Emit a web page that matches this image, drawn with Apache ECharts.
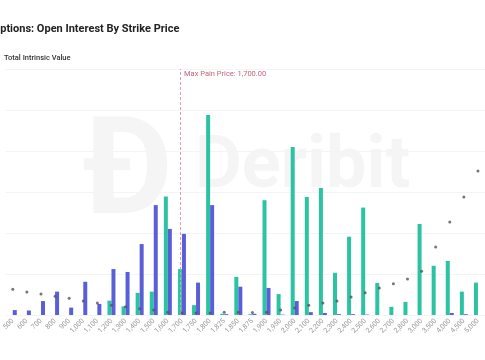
<!DOCTYPE html>
<html>
<head>
<meta charset="utf-8">
<script src="https://cdn.jsdelivr.net/npm/echarts@6/dist/echarts.min.js"></script>
<style>html,body{margin:0;padding:0;background:#fff;}#c{width:485px;height:360px;}</style>
</head>
<body>
<div id="c"></div>
<script>
const categories = ['500','600','700','800','900','1,000','1,100','1,200','1,300','1,400','1,500','1,600','1,700','1,750','1,800','1,825','1,850','1,875','1,900','1,950','2,000','2,100','2,200','2,300','2,400','2,500','2,600','2,700','2,800','3,000','3,500','4,000','4,500','5,000'];
const calls = [0,0,0,0,0,0,0,350,210,540,570,2890,1120,240,4880,30,930,20,2800,510,4100,2880,3100,1030,1910,2620,780,200,320,2220,1200,1320,570,790];
const puts = [120,110,340,570,180,810,270,1120,1050,1730,2680,2100,1980,790,2680,20,690,30,660,10,340,70,50,20,20,10,0,0,0,0,0,50,20,0];
const intrinsic = [63,56,51,46,41,34,29,24,20,15,12,7,5,5,5,7,7,6,7,12,17,24,29,34,44,54,66,76,88,107,166,227,288,351];
const maxPainStrike = '1,700';
const titleText = 'ETH Options: Open Interest By Strike Price';
const maxPainLabel = 'Max Pain Price: 1,700.00';

const chart = echarts.init(document.getElementById('c'), null, {renderer: 'canvas'});
const FONT = 'Roboto, "Noto Sans", sans-serif';
chart.setOption({
  animation: false,
  backgroundColor: '#ffffff',
  title: {
    text: titleText,
    left: -36, top: 19,
    textStyle: {fontFamily: FONT, fontSize: 11, fontWeight: 'bold', color: '#222'}
  },
  legend: {
    data: ['Total Intrinsic Value'],
    left: -12, top: 49,
    itemWidth: 6, itemHeight: 6, itemGap: 5,
    icon: 'circle',
    textStyle: {fontFamily: FONT, fontSize: 7.5, fontWeight: 500, color: '#333'}
  },
  graphic: [
    {type: 'text', z: 0, left: 83, top: 112, style: {text: 'Đ', font: 'bold 135px Roboto, sans-serif', fill: '#f5f5f5'}},
    {type: 'text', z: 0, left: 195, top: 133, style: {text: 'Deribit', font: 'bold 72px Roboto, sans-serif', fill: '#f5f5f5'}},
    {type: 'text', z: 10, left: 184, top: 70, style: {text: maxPainLabel, font: '7.5px Roboto, sans-serif', fill: '#c4647c'}}
  ],
  grid: {left: 1.8, top: 69, width: 489.6, height: 246, containLabel: false},
  xAxis: {
    type: 'category',
    data: categories,
    axisLine: {show: false},
    axisTick: {show: false},
    axisLabel: {rotate: 45, fontSize: 7, color: '#999', fontFamily: FONT, margin: 5, interval: 0}
  },
  yAxis: [
    {type: 'value', min: 0, max: 6000, interval: 1000, axisLabel: {show: false}, axisLine: {show: false}, axisTick: {show: false},
     splitLine: {lineStyle: {color: '#f4f4f4', width: 1}}},
    {type: 'value', min: 0, max: 600, interval: 100, axisLabel: {show: false}, axisLine: {show: false}, axisTick: {show: false},
     splitLine: {show: false}}
  ],
  series: [
    {name: 'Calls', type: 'bar', data: calls, barWidth: 4, barGap: '0%', itemStyle: {color: '#2cc3a3'}, z: 2,
     markLine: {symbol: 'none', silent: true, label: {show: false},
       lineStyle: {type: [3, 2], color: '#d9a0ad', width: 1},
       data: [{xAxis: maxPainStrike}]}},
    {name: 'Puts', type: 'bar', data: puts, barWidth: 4, itemStyle: {color: '#5a5fd8'}, z: 2},
    {name: 'Total Intrinsic Value', type: 'scatter', yAxisIndex: 1, data: intrinsic, symbolSize: 3,
     itemStyle: {color: '#5b4d5e'}, z: 5}
  ]
});
</script>
</body>
</html>
